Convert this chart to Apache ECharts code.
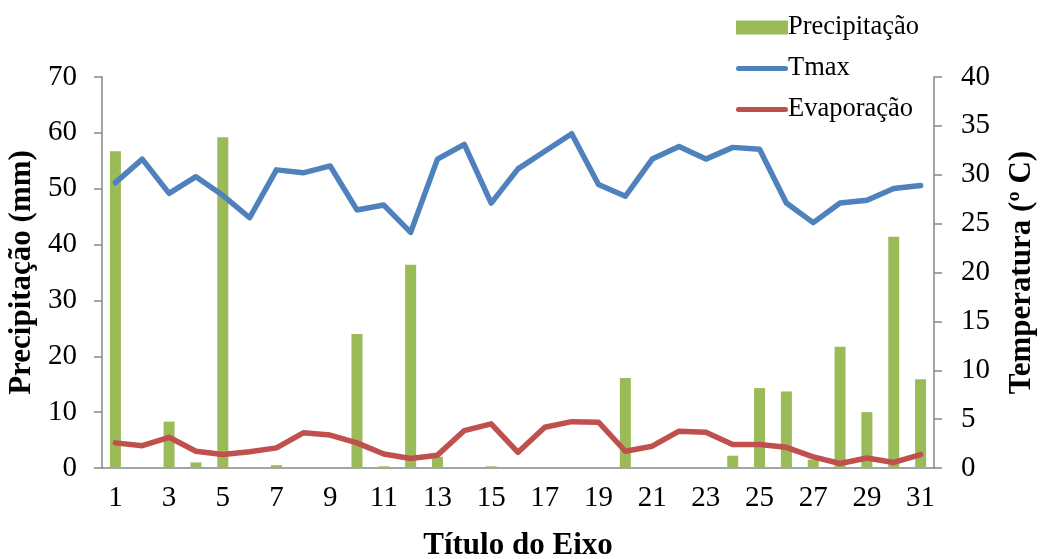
<!DOCTYPE html>
<html>
<head>
<meta charset="utf-8">
<script src="https://cdn.jsdelivr.net/npm/echarts@6/dist/echarts.min.js"></script>
<style>
  html, body { margin: 0; padding: 0; background: #fff; }
  #chart { width: 1043px; height: 559px; }
</style>
</head>
<body>
<div id="chart"></div>
<script>
// Daily values for one month
const days = Array.from({ length: 31 }, (_, i) => String(i + 1));

// Precipitation (mm), left axis
const precipitacao = [56.7, 0, 8.3, 1.0, 59.2, 0, 0.5, 0, 0, 24.0,
                      0.3, 36.4, 2.0, 0, 0.3, 0, 0, 0, 0, 16.1,
                      0, 0, 0, 2.2, 14.3, 13.7, 1.5, 21.7, 10.0, 41.4, 15.9];

// Maximum temperature (°C), right axis
const tmax = [29.2, 31.6, 28.1, 29.8, 27.9, 25.6, 30.5, 30.2, 30.9, 26.4,
              26.9, 24.1, 31.6, 33.1, 27.1, 30.6, 32.4, 34.2, 29.0, 27.8,
              31.6, 32.9, 31.6, 32.8, 32.6, 27.1, 25.1, 27.1, 27.4, 28.6, 28.9];

// Evaporation (mm), left axis
const evaporacao = [4.5, 4.0, 5.5, 3.0, 2.4, 2.9, 3.6, 6.3, 5.9, 4.5,
                    2.5, 1.7, 2.3, 6.7, 7.9, 2.8, 7.3, 8.3, 8.2, 3.0,
                    3.9, 6.6, 6.4, 4.2, 4.2, 3.7, 2.0, 0.8, 1.8, 1.0, 2.4];

const FONT = "'Liberation Serif', 'Times New Roman', serif";
const AXIS_GREY = '#868686';
// thin rounded bar used as the legend marker of the line series
const LINE_ICON = 'path://M2.5,0 H49.5 A2.5,2.5 0 0 1 49.5,5 H2.5 A2.5,2.5 0 0 1 2.5,0 Z';

const chart = echarts.init(document.getElementById('chart'), null, { renderer: 'canvas' });

chart.setOption({
  backgroundColor: '#ffffff',
  animation: false,
  textStyle: { fontFamily: FONT, color: '#000' },
  grid: {
    left: 102, right: 109, top: 77, bottom: 91,
    containLabel: false,
    outerBoundsMode: 'none'
  },
  legend: {
    orient: 'vertical',
    left: 731,
    top: 9,
    itemWidth: 52,
    itemHeight: 14,
    itemGap: 14,
    symbolKeepAspect: true,
    textStyle: { fontFamily: FONT, fontSize: 26.5, color: '#000', padding: [0, 0, 0, -5] },
    data: [
      { name: 'Precipitação', icon: 'rect' },
      { name: 'Tmax', icon: LINE_ICON },
      { name: 'Evaporação', icon: LINE_ICON }
    ]
  },
  xAxis: {
    type: 'category',
    data: days,
    boundaryGap: true,
    name: 'Título do Eixo',
    nameLocation: 'middle',
    nameGap: 62,
    nameTextStyle: { fontFamily: FONT, fontSize: 31, fontWeight: 'bold', color: '#000' },
    axisLine: { lineStyle: { color: AXIS_GREY, width: 1.5 } },
    axisTick: { show: false },
    axisLabel: { interval: 1, fontFamily: FONT, fontSize: 29, color: '#000', margin: 16 },
    splitLine: { show: false }
  },
  yAxis: [
    {
      type: 'value',
      min: 0, max: 70, interval: 10,
      name: 'Precipitação (mm)',
      nameLocation: 'middle',
      nameGap: 61,
      nameRotate: 90,
      nameTextStyle: { fontFamily: FONT, fontSize: 31, fontWeight: 'bold', color: '#000' },
      axisLine: { show: true, lineStyle: { color: AXIS_GREY, width: 1.5 } },
      axisTick: { show: true, length: 8, lineStyle: { color: AXIS_GREY, width: 1.5 } },
      axisLabel: { fontFamily: FONT, fontSize: 29, color: '#000', margin: 25 },
      splitLine: { show: false }
    },
    {
      type: 'value',
      min: 0, max: 40, interval: 5,
      name: 'Temperatura (º C)',
      nameLocation: 'middle',
      nameGap: 72,
      nameRotate: 90,
      nameTextStyle: { fontFamily: FONT, fontSize: 31, fontWeight: 'bold', color: '#000' },
      axisLine: { show: true, lineStyle: { color: AXIS_GREY, width: 1.5 } },
      axisTick: { show: true, length: 8, lineStyle: { color: AXIS_GREY, width: 1.5 } },
      axisLabel: { fontFamily: FONT, fontSize: 29, color: '#000', margin: 27 },
      splitLine: { show: false }
    }
  ],
  series: [
    {
      name: 'Precipitação',
      type: 'bar',
      yAxisIndex: 0,
      data: precipitacao,
      barWidth: 11,
      itemStyle: { color: '#9BBB59' },
      z: 1
    },
    {
      name: 'Tmax',
      type: 'line',
      yAxisIndex: 1,
      data: tmax,
      symbol: 'none',
      lineStyle: { color: '#4F81BD', width: 5.5, cap: 'round', join: 'round' },
      itemStyle: { color: '#4F81BD' },
      z: 3
    },
    {
      name: 'Evaporação',
      type: 'line',
      yAxisIndex: 0,
      data: evaporacao,
      symbol: 'none',
      lineStyle: { color: '#C0504D', width: 5.5, cap: 'round', join: 'round' },
      itemStyle: { color: '#C0504D' },
      z: 3
    }
  ]
});
</script>
</body>
</html>
